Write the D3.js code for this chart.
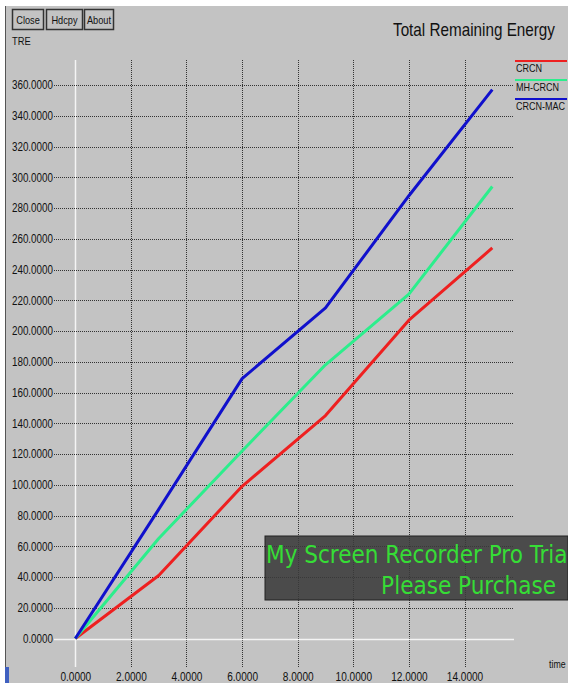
<!DOCTYPE html>
<html>
<head>
<meta charset="utf-8">
<script src="https://cdn.jsdelivr.net/npm/d3@7"></script>
<style>
  body { margin: 0; background: #fff; }
  svg { display: block; }
  text { font-family: 'Liberation Sans', Arial, sans-serif; }
</style>
</head>
<body>
<div class="container"></div>
<script>
const times = [0, 3, 6, 9, 12, 15];
const crcn = [0, 41, 99, 145, 207, 254];
const mhCrcn = [0, 65, 122, 178, 224, 294];
const crcnMac = [0, 84, 169, 215, 288, 357];

const seriesNames = ['CRCN', 'MH-CRCN', 'CRCN-MAC'];
const seriesColors = ['#ee2020', '#2cee8c', '#1010cc'];

const xTicks = [0, 2, 4, 6, 8, 10, 12, 14];
const yTicks = d3.range(0, 361, 20);

const width = 568;
const height = 683;

// the old X toolkit font is condensed, squeeze the glyphs to match
const narrow = (sel, k) => {
  sel.each(function() {
    const len = this.getComputedTextLength();
    d3.select(this)
      .attr('textLength', len * k)
      .attr('lengthAdjust', 'spacingAndGlyphs');
  });
};

const svg = d3
  .select('.container')
  .append('svg')
  .attr('width', width)
  .attr('height', height);

// window panel
svg.append('rect')
  .attr('x', 5).attr('y', 6)
  .attr('width', width - 5).attr('height', height - 6)
  .attr('fill', '#c3c3c3');
svg.append('line')
  .attr('x1', 5.5).attr('x2', 5.5).attr('y1', 6).attr('y2', height)
  .attr('stroke', '#555');
svg.append('rect')
  .attr('x', 5).attr('y', 667).attr('width', 4).attr('height', 16)
  .attr('fill', '#4060c0');

const x = d3.scaleLinear().domain([0, 14]).range([75.3, 464.5]);
const y = d3.scaleLinear().domain([0, 360]).range([638.5, 85]);

const graph = svg.append('g').attr('class', 'graph');

// grid
graph.selectAll('.vgrid')
  .data(xTicks)
  .enter()
  .append('line')
  .attr('class', 'vgrid')
  .attr('x1', d => Math.round(x(d)) + 0.5)
  .attr('x2', d => Math.round(x(d)) + 0.5)
  .attr('y1', 60)
  .attr('y2', 667)
  .attr('stroke', d => d === 0 ? '#f4f4f4' : '#333')
  .attr('stroke-width', d => d === 0 ? 1.5 : 1)
  .attr('stroke-dasharray', d => d === 0 ? null : '1,1');

graph.selectAll('.hgrid')
  .data(yTicks)
  .enter()
  .append('line')
  .attr('class', 'hgrid')
  .attr('x1', 54)
  .attr('x2', 514)
  .attr('y1', d => Math.round(y(d)) + 0.5)
  .attr('y2', d => Math.round(y(d)) + 0.5)
  .attr('stroke', d => d === 0 ? '#f4f4f4' : '#333')
  .attr('stroke-width', d => d === 0 ? 1.5 : 1)
  .attr('stroke-dasharray', d => d === 0 ? null : '1,1');

// axis labels
const yAxis = d3.axisLeft(y)
  .tickValues(yTicks)
  .tickSize(0)
  .tickPadding(0)
  .tickFormat(d3.format('.4f'));
graph.append('g')
  .attr('class', 'y-axis')
  .attr('transform', 'translate(53, 0)')
  .call(yAxis)
  .call(g => g.select('.domain').remove())
  .call(g => g.selectAll('text')
    .attr('font-family', null)
    .style('font-size', '12px')
    .attr('fill', '#111')
    .call(narrow, 0.82));

const xAxis = d3.axisBottom(x)
  .tickValues(xTicks)
  .tickSize(0)
  .tickPadding(0)
  .tickFormat(d3.format('.4f'));
graph.append('g')
  .attr('class', 'x-axis')
  .attr('transform', 'translate(0, 672)')
  .call(xAxis)
  .call(g => g.select('.domain').remove())
  .call(g => g.selectAll('text')
    .attr('font-family', null)
    .style('font-size', '12px')
    .attr('fill', '#111')
    .call(narrow, 0.84));

// lines
const seriesData = [crcn, mhCrcn, crcnMac];
const line = d3.line()
  .x((d, i) => x(times[i]))
  .y(d => y(d));

graph.selectAll('.series')
  .data(seriesData)
  .enter()
  .append('path')
  .attr('class', 'series')
  .attr('d', d => line(d))
  .attr('fill', 'none')
  .attr('stroke', (d, i) => seriesColors[i])
  .attr('stroke-width', 3)
  .attr('stroke-linejoin', 'round');

// legend
const legend = svg.selectAll('.legend')
  .data(seriesNames)
  .enter()
  .append('g')
  .attr('class', 'legend')
  .attr('transform', (d, i) => `translate(515, ${61 + i * 19})`);
legend.append('line')
  .attr('x1', 0).attr('x2', 52)
  .attr('stroke', (d, i) => seriesColors[i])
  .attr('stroke-width', 2);
legend.append('text')
  .attr('x', 1).attr('y', 11)
  .style('font-size', '11px')
  .attr('fill', '#111')
  .call(sel => sel.text(d => d))
  .call(narrow, 0.82);

// title and labels
svg.append('text')
  .attr('x', 393).attr('y', 36)
  .style('font-size', '18.5px')
  .attr('fill', '#111')
  .text('Total Remaining Energy')
  .attr('textLength', 162)
  .attr('lengthAdjust', 'spacingAndGlyphs');
svg.append('text')
  .attr('x', 12).attr('y', 45)
  .style('font-size', '11px')
  .attr('fill', '#111')
  .text('TRE')
  .call(narrow, 0.85);
svg.append('text')
  .attr('x', 549).attr('y', 668)
  .style('font-size', '11px')
  .attr('fill', '#111')
  .text('time')
  .call(narrow, 0.8);

// buttons
const buttons = [
  { label: 'Close', x: 12, w: 31 },
  { label: 'Hdcpy', x: 46, w: 36 },
  { label: 'About', x: 84, w: 29 }
];
const btn = svg.selectAll('.btn')
  .data(buttons)
  .enter()
  .append('g')
  .attr('class', 'btn');
btn.append('rect')
  .attr('x', d => d.x + 0.5).attr('y', 9.5)
  .attr('width', d => d.w).attr('height', 20)
  .attr('fill', '#c3c3c3')
  .attr('stroke', '#333')
  .attr('stroke-width', 1.5);
btn.append('text')
  .attr('x', d => d.x + d.w / 2 + 0.5).attr('y', 24)
  .attr('text-anchor', 'middle')
  .style('font-size', '11.5px')
  .attr('fill', '#111')
  .text(d => d.label)
  .call(narrow, 0.8);

// recorder watermark
const wm = svg.append('g').attr('class', 'watermark');
wm.append('rect')
  .attr('x', 265).attr('y', 536)
  .attr('width', width - 265).attr('height', 64)
  .attr('fill', '#3a3a3a')
  .attr('fill-opacity', 0.88)
  .attr('stroke', '#222');
wm.append('text')
  .attr('x', 266).attr('y', 563)
  .style('font-family', "'DejaVu Sans Condensed', 'DejaVu Sans', sans-serif")
  .style('font-size', '24px')
  .style('fill', '#36dd36')
  .text('My Screen Recorder Pro Trial');
wm.append('text')
  .attr('x', 556).attr('y', 594)
  .attr('text-anchor', 'end')
  .style('font-family', "'DejaVu Sans Condensed', 'DejaVu Sans', sans-serif")
  .style('font-size', '24px')
  .style('fill', '#36dd36')
  .text('Please Purchase');
</script>
</body>
</html>
